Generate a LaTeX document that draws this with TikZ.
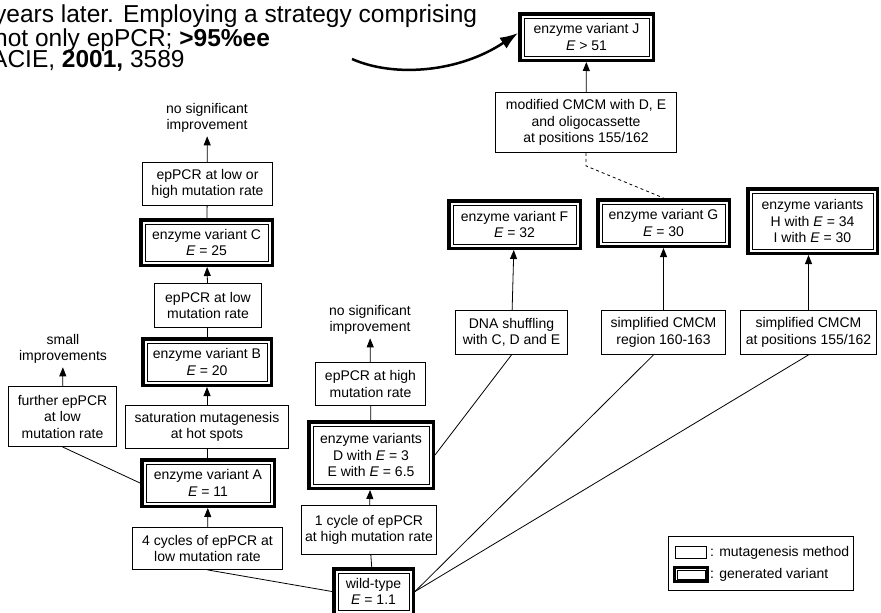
\documentclass[tikz,border=0pt]{standalone}
\usepackage{fontspec}
\setmainfont{Liberation Sans}
\usetikzlibrary{arrows.meta}
\newcommand{\toptext}{\fontsize{24.5}{22}\selectfont}
\tikzset{
  frame gap/.store in=\framegap, frame gap=4.1pt,
  method/.style={draw, line width=0.8pt, align=center, inner sep=2pt},
  variant/.style={draw, line width=3.5pt, align=center, inner sep=2pt,
    path picture={\draw[line width=0.7pt]
      ([shift={(\framegap,-\framegap)}]path picture bounding box.north west) rectangle
      ([shift={(-\framegap,\framegap)}]path picture bounding box.south east);}},
  note/.style={align=center},
  link/.style={line width=0.8pt},
  flow/.style={line width=0.8pt, -{Triangle[length=9pt,width=7pt]}},
}
\begin{document}
\begin{tikzpicture}[x=1pt, y=-1pt, every node/.style={font=\fontsize{14}{16.5}\selectfont}]
\useasboundingbox (0,0) rectangle (881,613);
\clip (0,0) rectangle (881,613);

% Text above
\node[anchor=base west, inner sep=0pt, font=\toptext] (line1) at (-6,23) {years later. Employing a strategy comprising};
\node[anchor=base west, inner sep=0pt, font=\toptext] (line2) at (-6,46) {not only epPCR; \textbf{>95\%ee}};
\node[anchor=base west, inner sep=0pt, font=\toptext] (line3) at (-9,67) {ACIE, \textbf{2001,} 3589};

% Left branch
\node[note] (nosigleft) at (207,118) {no significant\\improvement};
\node[method, minimum width=130pt, minimum height=43pt] (lowhigh) at (207.5,184) {epPCR at low or\\high mutation rate};
\node[variant, minimum width=131.5pt, minimum height=45.5pt] (C) at (206.5,242.5) {enzyme variant C\\\textit{E} = 25};
\node[method, minimum width=107pt, minimum height=44pt] (lowrate) at (208,305.5) {epPCR at low\\mutation rate};
\node[variant, minimum width=128.5pt, minimum height=46.5pt] (B) at (207,362) {enzyme variant B\\\textit{E} = 20};
\node[method, minimum width=163pt, minimum height=43pt] (satur) at (207,427) {saturation mutagenesis\\at hot spots};
\node[variant, minimum width=132.5pt, minimum height=46.5pt] (A) at (208,483) {enzyme variant A\\\textit{E} = 11};
\node[method, minimum width=150pt, minimum height=42pt] (fourcyc) at (207.5,548.5) {4 cycles of epPCR at\\low mutation rate};
\node[note] (smallimp) at (63,349) {small\\improvements};
\node[method, minimum width=108pt, minimum height=60pt] (further) at (62.5,416.5) {further epPCR\\at low\\mutation rate};

% Middle branch
\node[note] (nosigmid) at (370,320) {no significant\\improvement};
\node[method, minimum width=110pt, minimum height=43pt] (highrate) at (370.5,384) {epPCR at high\\mutation rate};
\node[variant, minimum width=124.5pt, minimum height=66.5pt] (DE) at (371,455) {enzyme variants\\D with \textit{E} = 3\\E with \textit{E} = 6.5};
\node[method, minimum width=135pt, minimum height=49pt] (onecyc) at (369,530) {1 cycle of epPCR\\at high mutation rate};
\node[variant, minimum width=79.5pt, minimum height=45.5pt] (wt) at (373.5,591.5) {wild-type\\\textit{E} = 1.1};

% Right branch
\node[variant, minimum width=133.5pt, minimum height=46.5pt] (J) at (586.5,37) {enzyme variant J\\\textit{E} > 51};
\node[method, minimum width=181pt, minimum height=60pt] (modcmcm) at (586,122.5) {modified CMCM with D, E\\and oligocassette\\at positions 155/162};
\node[variant, minimum width=131.5pt, minimum height=47.5pt] (F) at (514.5,224.5) {enzyme variant F\\\textit{E} = 32};
\node[variant, minimum width=131.5pt, minimum height=46.5pt] (G) at (663.5,223) {enzyme variant G\\\textit{E} = 30};
\node[variant, minimum width=129.5pt, minimum height=64.5pt] (HI) at (812.5,221) {enzyme variants\\H with \textit{E} = 34\\I with \textit{E} = 30};
\node[method, minimum width=112pt, minimum height=44pt] (dna) at (511.5,332.5) {DNA shuffling\\with C, D and E};
\node[method, minimum width=124pt, minimum height=44pt] (region) at (663.5,332.5) {simplified CMCM\\region 160-163};
\node[method, minimum width=136pt, minimum height=44pt] (positions) at (808.5,332.5) {simplified CMCM\\at positions 155/162};

% Legend
\node[method, minimum width=185pt, minimum height=54pt] (legend) at (761,563.5) {};
\node[method, minimum width=31pt, minimum height=12pt, inner sep=0pt] (keymethod) at (691,552.5) {};
\node[anchor=west, inner sep=0pt] (keymethodtxt) at (710,553) {: mutagenesis method};
\node[variant, line width=2.5pt, frame gap=2.6pt, minimum width=33pt, minimum height=14pt, inner sep=0pt] (keyvariant) at (691,574.5) {};
\node[anchor=west, inner sep=0pt] (keyvarianttxt) at (710,575) {: generated variant};

% Connectors, left
\draw[flow] (fourcyc) -- (A);
\draw[link] (A) -- (satur);
\draw[flow] (satur) -- (B);
\draw[link] (B) -- (lowrate);
\draw[flow] (lowrate) -- (C);
\draw[link] (C) -- (lowhigh);
\draw[flow] (lowhigh) -- (nosigleft);
\draw[link] (A.west) -- (further.south);
\draw[flow] (further) -- (smallimp);
\draw[link] (wt.west) -- (fourcyc.south);

% Connectors, middle
\draw[link] (wt) -- (onecyc);
\draw[flow] (onecyc) -- (DE);
\draw[link] (DE) -- (highrate);
\draw[flow] (highrate) -- (nosigmid);

% Connectors, right
\draw[link] (DE.east) -- (dna.south);
\draw[link] (wt.east) -- ([xshift=-10pt]region.south);
\draw[link] (wt.east) -- (positions.south);
\draw[flow] (dna) -- (F);
\draw[flow] (region) -- (G);
\draw[flow] (positions.north) -- (positions.north |- HI.south);
\draw[flow] (modcmcm) -- (J);
\draw[link, dashed] (modcmcm.south) -- ++(0,13) -- (G.north);

% Curved arrow
\coordinate (curvestart) at (352,59);
\draw[line width=2.5pt, -{Latex[length=18pt,width=13pt]}] (curvestart) .. controls (395,78) and (460,72) .. ([yshift=4pt]J.west);
\end{tikzpicture}
\end{document}
